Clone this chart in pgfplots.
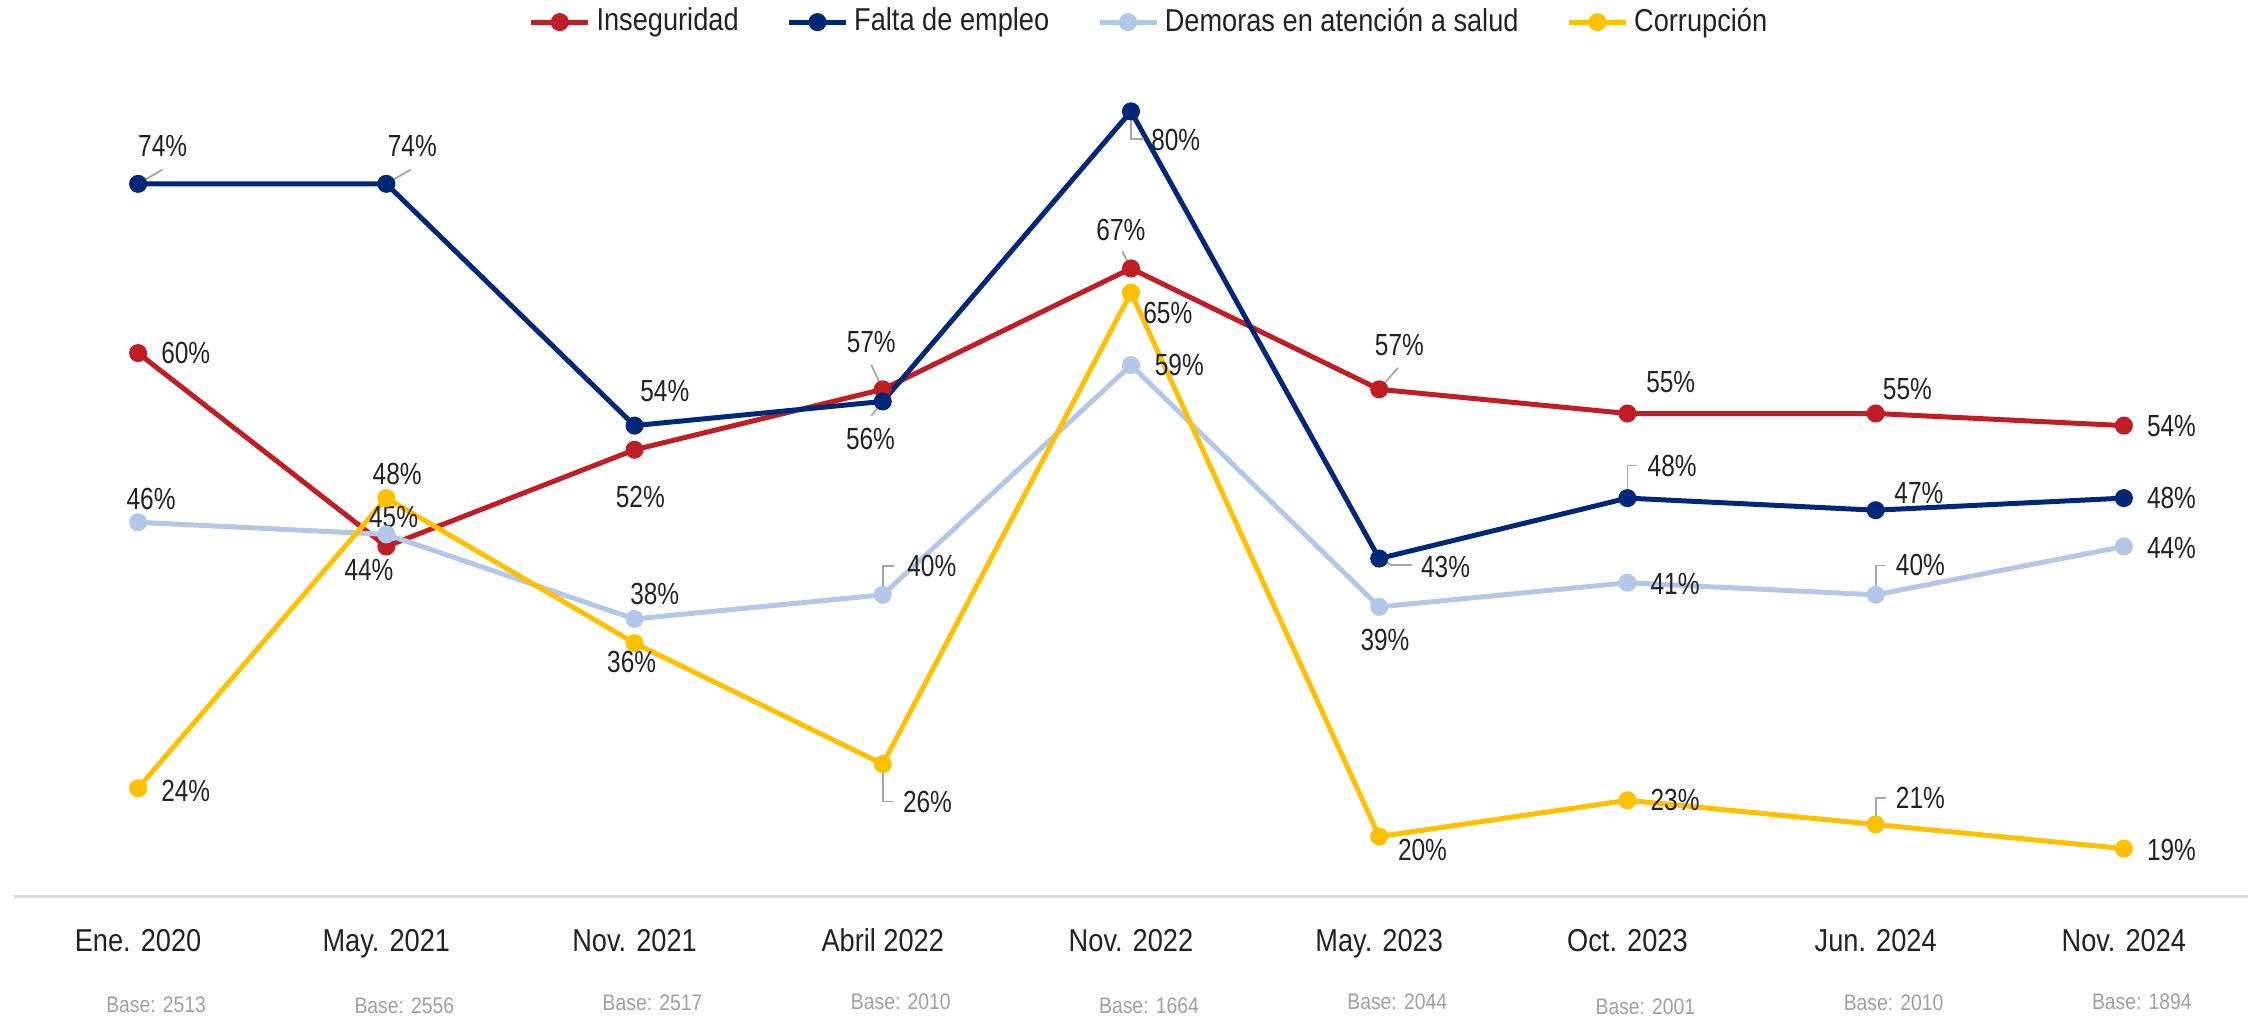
\documentclass[border=0pt]{standalone}
\usepackage{pgfplots}
\pgfplotsset{compat=1.18}
\usepackage{fontspec}
\setmainfont{Liberation Sans}[FakeStretch=0.86]
\newfontfamily\cond{Liberation Sans}[FakeStretch=0.80]
\definecolor{cIns}{HTML}{BE1E24}
\definecolor{cEmp}{HTML}{002878}
\definecolor{cDem}{HTML}{B4C7E7}
\definecolor{cCor}{HTML}{FFC000}
\definecolor{axgray}{HTML}{D9D9D9}
\definecolor{leadgray}{HTML}{A6A6A6}
\definecolor{basegray}{HTML}{A0A0A0}
\definecolor{txt}{HTML}{222222}

\tikzset{
  dlab/.style={font=\cond\fontsize{8.7}{10}\selectfont, text=txt, inner sep=0pt},
  blab/.style={font=\fontsize{6.4}{7}\selectfont, text=basegray, anchor=base, inner sep=0pt},
  lead/.style={draw=leadgray, line width=0.5pt},
}

% data label: x, y, dx, dy (px offsets, y down), value
\newcommand{\lbl}[5]{\node[dlab, xshift={0.01443cm*(#3)}, yshift={-0.01443cm*(#4)}] at (axis cs:#1,#2) {#5\%};}
\newcommand{\base}[3]{\node[blab, xshift=0.18cm, yshift=-#2cm] at (axis cs:#1,15) {Base: #3};}

\begin{document}
\begin{tikzpicture}
\begin{axis}[
  width=22.34cm, height=8.34cm, scale only axis,
  xmin=-0.5, xmax=8.5, ymin=15, ymax=84, clip=false,
  hide y axis, axis x line*=bottom,
  x axis line style={-, draw=axgray, line width=0.85pt},
  xtick={0,...,8}, major tick length=0pt,
  xticklabels={Ene. 2020, May. 2021, Nov. 2021, Abril 2022, Nov. 2022, May. 2023, Oct. 2023, Jun. 2024, Nov. 2024},
  xticklabel style={font=\fontsize{9}{10}\selectfont, text=txt, anchor=base, yshift=-0.55cm},
  every axis plot/.append style={line width=1.42pt, mark=*, mark size=1.85pt},
  legend style={at={(0.508,1.049)}, anchor=center, draw=none, fill=none, legend columns=4,
    font=\fontsize{9}{10}\selectfont, text=txt, nodes={inner sep=0.5pt},
    /tikz/every odd column/.append style={column sep=0.04cm},
    /tikz/every even column/.append style={column sep=0.46cm}},
  legend image code/.code={\draw[mark repeat=2, mark phase=2, #1] plot coordinates {(0cm,0cm) (0.285cm,0cm) (0.57cm,0cm)};},
]
\addplot[color=cIns, mark options={fill=cIns}] coordinates {(0,60) (1,44) (2,52) (3,57) (4,67) (5,57) (6,55) (7,55) (8,54)};
\addplot[color=cEmp, mark options={fill=cEmp}] coordinates {(0,74) (1,74) (2,54) (3,56) (4,80) (5,43) (6,48) (7,47) (8,48)};
\addplot[color=cDem, mark options={fill=cDem}] coordinates {(0,46) (1,45) (2,38) (3,40) (4,59) (5,39) (6,41) (7,40) (8,44)};
\addplot[color=cCor, mark options={fill=cCor}] coordinates {(0,24) (1,48) (2,36) (3,26) (4,65) (5,20) (6,23) (7,21) (8,19)};
\legend{Inseguridad, Falta de empleo, Demoras en atención a salud, Corrupción}

\coordinate (o) at (rel axis cs:0,0);

% leader lines
\draw[lead] (axis cs:0,74) -- ++(0.245cm,0.144cm);
\draw[lead] (axis cs:1,74) -- ++(0.245cm,0.144cm);
\draw[lead] (axis cs:3,57) -- ++(-0.115cm,0.245cm);
\draw[lead] (axis cs:4,67) -- ++(-0.087cm,0.173cm);
\draw[lead] (axis cs:3,56) -- ++(-0.115cm,-0.144cm);
\draw[lead] (axis cs:4,80) -- ++(0cm,-0.274cm) -- ++(0.13cm,0cm);
\draw[lead] (axis cs:5,57) -- ++(0.188cm,0.216cm);
\draw[lead] (axis cs:5,43) -- ++(0.12cm,-0.065cm) -- ++(0.21cm,0cm);
\draw[lead] (axis cs:6,48) -- ++(0cm,0.325cm) -- ++(0.1cm,0cm);
\draw[lead] (axis cs:3,40) -- ++(0cm,0.289cm) -- ++(0.115cm,0cm);
\draw[lead] (axis cs:7,40) -- ++(0cm,0.294cm) -- ++(0.1cm,0cm);
\draw[lead] (axis cs:3,26) -- ++(0cm,-0.375cm) -- ++(0.115cm,0cm);
\draw[lead] (axis cs:7,21) -- ++(0cm,0.268cm) -- ++(0.1cm,0cm);

% Inseguridad
\lbl{0}{60}{33}{0}{60}
\lbl{1}{44}{-12}{16}{44}
\lbl{2}{52}{4}{33}{52}
\lbl{3}{57}{-8}{-33}{57}
\lbl{4}{67}{-7}{-27}{67}
\lbl{5}{57}{14}{-31}{57}
\lbl{6}{55}{30}{-22}{55}
\lbl{7}{55}{22}{-17}{55}
\lbl{8}{54}{33}{0}{54}
% Falta de empleo
\lbl{0}{74}{17}{-26}{74}
\lbl{1}{74}{18}{-26}{74}
\lbl{2}{54}{21}{-24}{54}
\lbl{3}{56}{-8.5}{26}{56}
\lbl{4}{80}{31}{20}{80}
\lbl{5}{43}{46}{6}{43}
\lbl{6}{48}{31}{-22}{48}
\lbl{7}{47}{30}{-12}{47}
\lbl{8}{48}{33}{0}{48}
% Demoras
\lbl{0}{46}{9}{-16}{46}
\lbl{1}{45}{5}{-12}{45}
\lbl{2}{38}{14}{-17}{38}
\lbl{3}{40}{34}{-20}{40}
\lbl{4}{59}{33.5}{0}{59}
\lbl{5}{39}{4}{23}{39}
\lbl{6}{41}{33}{1}{41}
\lbl{7}{40}{31}{-21}{40}
\lbl{8}{44}{33}{1}{44}
% Corrupcion
\lbl{0}{24}{33}{2}{24}
\lbl{1}{48}{7.5}{-17}{48}
\lbl{2}{36}{-2}{13}{36}
\lbl{3}{26}{31}{26}{26}
\lbl{4}{65}{25.5}{14}{65}
\lbl{5}{20}{30}{9}{20}
\lbl{6}{23}{33}{0}{23}
\lbl{7}{21}{31}{-18.6}{21}
\lbl{8}{19}{33}{1}{19}

% sample sizes
\base{0}{1.16}{2513}
\base{1}{1.166}{2556}
\base{2}{1.14}{2517}
\base{3}{1.125}{2010}
\base{4}{1.166}{1664}
\base{5}{1.13}{2044}
\base{6}{1.176}{2001}
\base{7}{1.14}{2010}
\base{8}{1.125}{1894}
\end{axis}
\pgfresetboundingbox
\path (o) ++(-0.14cm,-1.20cm) rectangle ++(22.62cm,10.17cm);
\end{tikzpicture}
\end{document}
